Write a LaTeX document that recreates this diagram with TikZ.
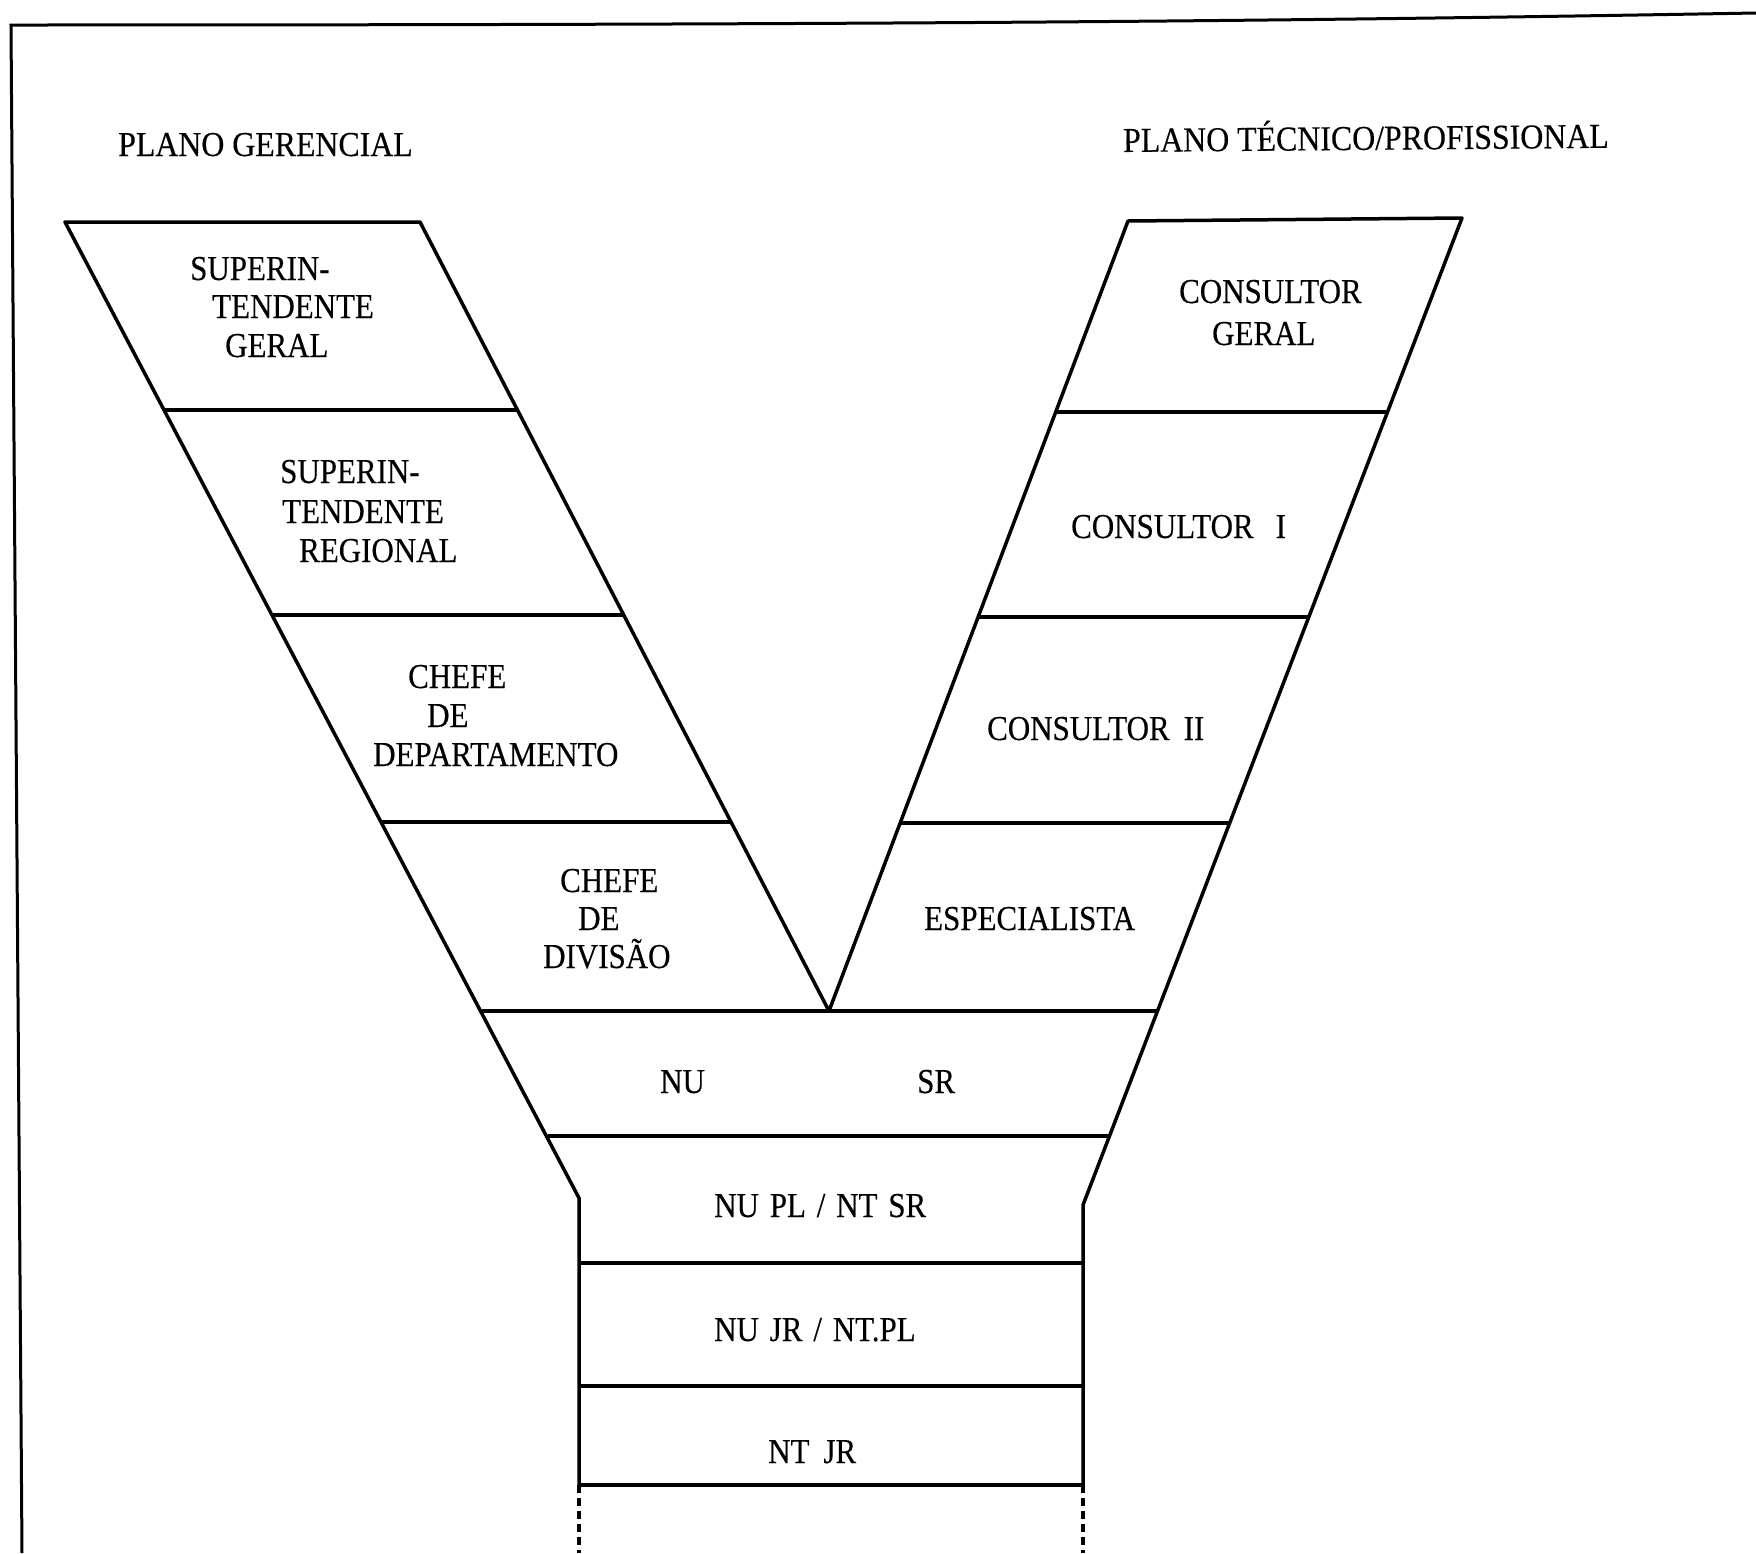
\documentclass[tikz,border=0pt]{standalone}
\usepackage{fontspec}
\setmainfont[FakeStretch=0.885, FakeBold=0.3, WordSpace=1.4]{Liberation Serif}
\newfontfamily\headfont[FakeStretch=0.91, FakeBold=0.3]{Liberation Serif}
\begin{document}
\begin{tikzpicture}[x=1pt,y=-1pt,
  lbl/.style={inner sep=0pt, anchor=base west, font=\fontsize{35}{39}\selectfont},
  head/.style={inner sep=0pt, anchor=base west, font=\headfont\fontsize{35}{39}\selectfont},
  edge/.style={line width=3.5pt, line join=round, line cap=round},
  divider/.style={line width=3.5pt},
  dashline/.style={line width=3.5pt, dash pattern=on 8pt off 5pt},
  frame/.style={line width=3pt}]
\useasboundingbox (0,0) rectangle (1756,1553);
\fill[white] (0,0) rectangle (1756,1553);

% frame
\coordinate (F0) at (11,25);
\coordinate (F1) at (1756,13);
\coordinate (F2) at (22,1553);
\draw[frame] (F2) -- (F0) .. controls (900,25) and (1300,21) .. (F1);

% outline of the Y
\coordinate (LTL) at (65,222);
\coordinate (LTR) at (420,222);
\coordinate (V) at (829,1011);
\coordinate (RTL) at (1128,221);
\coordinate (RTR) at (1462,218);
\coordinate (BL) at (579,1198);
\coordinate (BR) at (1083,1205);
\coordinate (BLd) at (579,1485);
\coordinate (BRd) at (1083,1485);
\coordinate (BLe) at (579,1553);
\coordinate (BRe) at (1083,1553);
\draw[edge] (BLd) -- (BL) -- (LTL) -- (LTR) -- (V) -- (RTL) -- (RTR) -- (BR) -- (BRd);
\draw[dashline] (BLd) -- (BLe);
\draw[dashline] (BRd) -- (BRe);

% dividers, left branch
\draw[divider] (164,410) -- (517,410);
\draw[divider] (272.5,615) -- (623.6,615);
\draw[divider] (382,822) -- (731,822);
% dividers, right branch
\draw[divider] (1055.7,412) -- (1387.5,412);
\draw[divider] (978.2,617) -- (1308.8,617);
\draw[divider] (900.1,823) -- (1229.7,823);
% dividers, stem
\draw[divider] (481.6,1011) -- (1157.5,1011);
\draw[divider] (547.6,1136) -- (1109.5,1136);
\draw[divider] (BL |- 0,1263) -- (BR |- 0,1263);
\draw[divider] (BL |- 0,1386) -- (BR |- 0,1386);
\draw[divider] (BLd) -- (BRd);

% headings
\node[head] (hg) at (118,156) {PLANO GERENCIAL};
\node[head, rotate=0.5] (ht) at (1123,152) {PLANO TÉCNICO/PROFISSIONAL};

% left branch labels
\node[lbl] (sg1) at (190,280) {SUPERIN-};
\node[lbl] (sg2) at (212,318) {TENDENTE};
\node[lbl] (sg3) at (225,357) {GERAL};
\node[lbl] (sr1) at (280,483) {SUPERIN-};
\node[lbl] (sr2) at (282,523) {TENDENTE};
\node[lbl] (sr3) at (299,562) {REGIONAL};
\node[lbl] (cd1) at (408,688) {CHEFE};
\node[lbl] (cd2) at (427,727) {DE};
\node[lbl] (cd3) at (373,766) {DEPARTAMENTO};
\node[lbl] (cv1) at (560,892) {CHEFE};
\node[lbl] (cv2) at (578,930) {DE};
\node[lbl] (cv3) at (543,968) {DIVISÃO};

% right branch labels
\node[lbl] (cg1) at (1179,303) {CONSULTOR};
\node[lbl] (cg2) at (1212,345) {GERAL};
\node[lbl] (c1) at (1071,538) {CONSULTOR\hspace{22pt}I};
\node[lbl] (c2) at (987,740) {CONSULTOR\hspace{14pt}II};
\node[lbl] (esp) at (924,930) {ESPECIALISTA};

% stem labels
\node[lbl] (nu) at (660,1093) {NU};
\node[lbl] (sr) at (917,1093) {SR};
\node[lbl] (nupl) at (714,1217) {NU PL / NT SR};
\node[lbl] (nujr) at (714,1341) {NU JR / NT.PL};
\node[lbl] (ntjr) at (768,1463) {NT\hspace{14pt}JR};
\end{tikzpicture}
\end{document}
